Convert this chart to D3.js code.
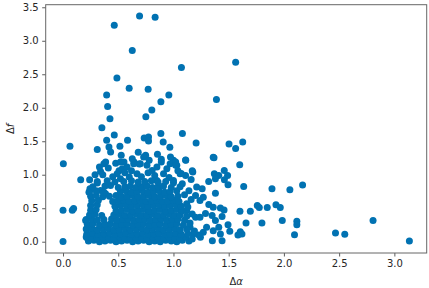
<!DOCTYPE html>
<html>
<head>
<meta charset="utf-8">
<script src="https://cdn.jsdelivr.net/npm/d3@7"></script>
<style>
  body { margin: 0; background: #fff; }
  svg { display: block; }
  .tick text { font-family: "DejaVu Sans", sans-serif; font-size: 10px; fill: #262626; }
</style>
</head>
<body>
<div id="chart"></div>
<script>

// [Δα, Δf] pairs
// outliers and the sparse upper part
var sparsePoints = [
    [0.693, 3.37], [0.834, 3.35], [0.464, 3.23], [0.627, 2.855], [1.563, 2.68],
    [1.072, 2.60], [0.488, 2.445], [0.599, 2.29], [0.771, 2.275], [0.395, 2.19],
    [0.958, 2.19], [1.389, 2.125], [0.886, 2.09], [0.404, 2.02], [0.804, 1.965],
    [0.750, 1.865], [0.425, 1.835], [0.352, 1.70], [0.464, 1.595], [0.886, 1.615],
    [1.081, 1.615], [0.395, 1.515], [0.584, 1.515], [0.735, 1.55], [0.774, 1.565],
    [0.774, 1.505], [0.907, 1.49], [1.205, 1.475], [1.503, 1.46], [1.563, 1.39],
    [1.627, 1.49], [0.063, 1.425], [0.310, 1.375], [0.416, 1.415], [0.431, 1.34],
    [0.515, 1.425], [0.681, 1.335], [0.967, 1.41], [0.855, 1.305], [0.003, 1.165],
    [0.527, 1.29], [1.367, 1.255], [1.600, 1.15], [1.111, 1.215], [0.748, 1.29]
];

// right hand tail
var tailPoints = [
    [0.160, 0.925], [0.241, 0.925], [1.319, 0.90], [1.461, 0.925], [1.494, 0.85],
    [1.636, 0.825], [2.169, 0.845], [2.054, 0.775], [1.892, 0.79], [1.380, 0.725],
    [1.370, 1.015], [1.460, 1.065], [1.175, 1.04], [0.000, 0.47], [0.084, 0.47],
    [0.096, 0.495], [0.000, 0.005], [1.602, 0.455], [1.696, 0.455], [1.759, 0.54],
    [1.777, 0.51], [1.849, 0.51], [1.928, 0.55], [1.967, 0.51], [1.985, 0.315],
    [1.801, 0.28], [1.657, 0.28], [2.117, 0.305], [2.117, 0.255], [2.096, 0.105],
    [2.467, 0.13], [2.551, 0.11], [2.807, 0.315], [3.136, 0.01], [1.605, 0.15],
    [1.620, 0.115], [1.584, 0.10], [1.458, 0.475], [1.440, 0.375], [1.494, 0.255],
    [1.510, 0.155], [1.440, 0.015], [1.352, 0.015], [1.425, 0.115], [1.41, 0.99],
    [1.38, 0.94], [1.49, 0.99], [1.36, 1.26]
];

// edges of the main cluster
var edgePoints = [
    [1.21, 0.815], [1.26, 0.79], [1.20, 0.69], [1.24, 0.615], [1.27, 0.665],
    [1.32, 0.555], [1.36, 0.515], [1.425, 0.505], [1.35, 0.39], [1.38, 0.315],
    [1.30, 0.215], [1.36, 0.165], [1.41, 0.215], [1.244, 0.065], [1.18, 0.115],
    [1.15, 0.215], [1.20, 0.365], [1.12, 0.465], [1.24, 0.365], [1.12, 0.565],
    [0.235, 0.74], [0.31, 0.875], [0.34, 0.765], [0.385, 0.715], [0.43, 0.84],
    [0.33, 1.115], [0.37, 1.165], [0.386, 1.19], [0.34, 1.05], [0.36, 1.0],
    [0.477, 1.17], [0.552, 1.19], [0.643, 1.19], [0.69, 1.16], [0.507, 1.06],
    [0.49, 1.015], [0.536, 1.09], [0.58, 1.115], [0.64, 1.165], [0.70, 1.165],
    [0.76, 1.14], [0.807, 1.065], [0.85, 1.115], [0.91, 1.015], [0.94, 1.09],
    [0.97, 1.165], [1.00, 1.215], [1.03, 1.14], [1.06, 1.015], [1.11, 0.99],
    [0.973, 1.265], [0.73, 1.265], [0.78, 1.215], [0.627, 1.24], [0.52, 1.19],
    [0.67, 1.015], [0.60, 0.965], [0.85, 0.915], [1.00, 0.915], [1.08, 0.865],
    [0.89, 1.23], [0.89, 1.19], [1.02, 1.19], [1.02, 1.14], [1.11, 1.22],
    [1.17, 1.06], [1.07, 1.02], [1.27, 0.14], [1.23, 0.10], [1.29, 0.42],
    [1.17, 0.415], [0.205, 0.315], [0.215, 0.11], [0.222, 0.05], [0.244, 0.79],
    [0.45, 0.97], [0.52, 0.94], [0.71, 0.97], [0.77, 1.03], [0.83, 0.99],
    [0.96, 0.96], [1.04, 1.06], [0.62, 1.06], [0.41, 1.10], [0.56, 1.03],
    [1.16, 0.93], [1.14, 0.76], [1.16, 0.63], [0.29, 1.00]
];

// dense core, row by row
var corePoints = [
    [0.23, 0.01], [0.28, 0.02], [0.33, 0.00], [0.38, 0.01], [0.43, 0.02], [0.48, 0.00],
    [0.53, 0.01], [0.58, 0.02], [0.63, 0.00], [0.68, 0.01], [0.73, 0.02], [0.78, 0.00],
    [0.83, 0.01], [0.88, 0.00], [0.93, 0.02], [0.98, 0.01], [1.03, 0.00], [1.08, 0.02], [1.14, 0.01],
    [0.21, 0.07], [0.26, 0.06], [0.31, 0.05], [0.36, 0.07], [0.41, 0.06], [0.46, 0.05],
    [0.51, 0.07], [0.56, 0.06], [0.61, 0.05], [0.66, 0.07], [0.71, 0.06], [0.76, 0.05],
    [0.81, 0.07], [0.86, 0.06], [0.91, 0.05], [0.96, 0.07], [1.01, 0.06], [1.06, 0.05], [1.11, 0.07], [1.17, 0.04],
    [0.22, 0.12], [0.27, 0.13], [0.32, 0.11], [0.37, 0.12], [0.42, 0.13], [0.47, 0.11],
    [0.52, 0.12], [0.57, 0.13], [0.62, 0.11], [0.67, 0.12], [0.72, 0.13], [0.77, 0.11],
    [0.82, 0.12], [0.87, 0.13], [0.92, 0.11], [0.97, 0.12], [1.02, 0.13], [1.07, 0.11], [1.13, 0.12], [1.19, 0.16],
    [0.21, 0.19], [0.26, 0.20], [0.31, 0.18], [0.36, 0.19], [0.41, 0.20], [0.46, 0.18],
    [0.51, 0.19], [0.56, 0.20], [0.61, 0.18], [0.66, 0.19], [0.71, 0.20], [0.76, 0.18],
    [0.81, 0.19], [0.86, 0.20], [0.91, 0.18], [0.96, 0.19], [1.01, 0.20], [1.06, 0.18], [1.12, 0.19],
    [0.22, 0.26], [0.27, 0.27], [0.33, 0.25], [0.38, 0.26], [0.43, 0.27], [0.48, 0.25],
    [0.53, 0.26], [0.58, 0.27], [0.63, 0.25], [0.68, 0.26], [0.73, 0.27], [0.78, 0.25],
    [0.83, 0.26], [0.88, 0.27], [0.93, 0.25], [0.98, 0.26], [1.03, 0.27], [1.09, 0.25], [1.15, 0.28],
    [0.21, 0.33], [0.26, 0.34], [0.31, 0.32], [0.37, 0.33], [0.44, 0.34], [0.49, 0.32],
    [0.54, 0.33], [0.59, 0.34], [0.64, 0.32], [0.69, 0.33], [0.74, 0.34], [0.79, 0.32],
    [0.84, 0.33], [0.89, 0.34], [0.94, 0.32], [0.99, 0.33], [1.04, 0.34], [1.10, 0.32],
    [0.24, 0.40], [0.29, 0.41], [0.35, 0.39], [0.46, 0.40], [0.51, 0.41], [0.56, 0.39],
    [0.61, 0.40], [0.66, 0.41], [0.71, 0.39], [0.76, 0.40], [0.81, 0.41], [0.86, 0.39],
    [0.91, 0.40], [0.96, 0.41], [1.01, 0.39], [1.06, 0.40], [1.12, 0.38],
    [0.25, 0.47], [0.30, 0.48], [0.48, 0.46], [0.53, 0.47], [0.58, 0.48], [0.63, 0.46],
    [0.68, 0.47], [0.73, 0.48], [0.78, 0.46], [0.83, 0.47], [0.88, 0.48], [0.93, 0.46],
    [0.98, 0.47], [1.03, 0.48], [1.08, 0.46],
    [0.25, 0.54], [0.31, 0.55], [0.47, 0.53], [0.52, 0.54], [0.57, 0.55], [0.62, 0.53],
    [0.67, 0.54], [0.72, 0.55], [0.77, 0.53], [0.82, 0.54], [0.87, 0.55], [0.92, 0.53],
    [0.97, 0.54], [1.02, 0.55], [1.07, 0.53], [1.13, 0.52],
    [0.26, 0.61], [0.32, 0.62], [0.45, 0.60], [0.50, 0.61], [0.55, 0.62], [0.60, 0.60],
    [0.65, 0.61], [0.70, 0.62], [0.75, 0.60], [0.80, 0.61], [0.85, 0.62], [0.90, 0.60],
    [0.95, 0.61], [1.00, 0.62], [1.05, 0.60],
    [0.25, 0.68], [0.30, 0.69], [0.36, 0.67], [0.42, 0.68], [0.48, 0.69], [0.53, 0.67],
    [0.58, 0.68], [0.63, 0.69], [0.68, 0.67], [0.73, 0.68], [0.78, 0.69], [0.83, 0.67],
    [0.88, 0.68], [0.93, 0.69], [0.98, 0.67], [1.04, 0.68], [1.10, 0.70],
    [0.24, 0.75], [0.30, 0.76], [0.37, 0.74], [0.52, 0.75], [0.57, 0.76], [0.62, 0.74],
    [0.67, 0.75], [0.72, 0.76], [0.77, 0.74], [0.82, 0.75], [0.87, 0.76], [0.92, 0.74],
    [0.97, 0.75], [1.03, 0.76],
    [0.27, 0.82], [0.38, 0.83], [0.50, 0.81], [0.56, 0.82], [0.61, 0.83], [0.66, 0.81],
    [0.71, 0.82], [0.76, 0.83], [0.81, 0.81], [0.86, 0.82], [0.91, 0.83], [0.98, 0.81], [1.06, 0.82],
    [0.31, 0.90], [0.40, 0.91], [0.47, 0.89], [0.55, 0.90], [0.62, 0.91], [0.68, 0.89],
    [0.74, 0.90], [0.80, 0.91], [0.86, 0.89], [0.93, 0.90], [1.00, 0.88]
];

var allPoints = sparsePoints.concat(tailPoints, edgePoints, corePoints);

var xTicks = [0.0, 0.5, 1.0, 1.5, 2.0, 2.5, 3.0];
var yTicks = [0.0, 0.5, 1.0, 1.5, 2.0, 2.5, 3.0, 3.5];

var w = 429, h = 288;
var margin = { top: 4.7, right: 2.3, bottom: 35, left: 45.7 };
var width = w - margin.left - margin.right;
var height = h - margin.top - margin.bottom;
var dotColor = "#0172b2";

// matplotlib style 5% padding around the data
var xExt = d3.extent(allPoints, d => d[0]);
var yExt = d3.extent(allPoints, d => d[1]);
var xPad = (xExt[1] - xExt[0]) * 0.05;
var yPad = (yExt[1] - yExt[0]) * 0.05;

var x = d3.scaleLinear()
    .domain([xExt[0] - xPad, xExt[1] + xPad])
    .range([0, width]);

var y = d3.scaleLinear()
    .domain([yExt[0] - yPad, yExt[1] + yPad])
    .range([height, 0]);

var svg = d3.select("#chart")
    .append("svg")
    .attr("width", w)
    .attr("height", h);

var g = svg.append("g")
    .attr("transform", `translate(${margin.left},${margin.top})`);

g.append("g")
    .selectAll("circle")
    .data(allPoints)
    .enter().append("circle")
    .attr("cx", d => x(d[0]))
    .attr("cy", d => y(d[1]))
    .attr("r", 3.5)
    .style("fill", dotColor);

var xAxis = d3.axisBottom(x)
    .tickValues(xTicks)
    .tickFormat(d3.format(".1f"))
    .tickSizeInner(3.5)
    .tickSizeOuter(0)
    .tickPadding(3.5);

var yAxis = d3.axisLeft(y)
    .tickValues(yTicks)
    .tickFormat(d3.format(".1f"))
    .tickSizeInner(3.5)
    .tickSizeOuter(0)
    .tickPadding(3.5);

var gx = g.append("g")
    .attr("transform", `translate(0,${height})`)
    .call(xAxis);

var gy = g.append("g")
    .call(yAxis);

gx.select(".domain").remove();
gy.select(".domain").remove();
g.selectAll(".tick line").attr("stroke", "#333").attr("stroke-width", 0.8);

// frame
g.append("rect")
    .attr("x", 0)
    .attr("y", 0)
    .attr("width", width)
    .attr("height", height)
    .style("fill", "none")
    .style("stroke", "#666")
    .style("stroke-width", 1);

// axis labels
var xLabel = svg.append("text")
    .attr("x", margin.left + width / 2)
    .attr("y", 285)
    .attr("text-anchor", "middle")
    .style("font-family", "DejaVu Sans, sans-serif")
    .style("font-size", "10px")
    .style("fill", "#262626");
xLabel.append("tspan").text("Δ");
xLabel.append("tspan").style("font-style", "italic").text("α");

var yLabel = svg.append("text")
    .attr("transform", `translate(14,${margin.top + height / 2}) rotate(-90)`)
    .attr("text-anchor", "middle")
    .style("font-family", "DejaVu Sans, sans-serif")
    .style("font-size", "10px")
    .style("fill", "#262626");
yLabel.append("tspan").text("Δ");
yLabel.append("tspan").style("font-style", "italic").text("f");

</script>
</body>
</html>
